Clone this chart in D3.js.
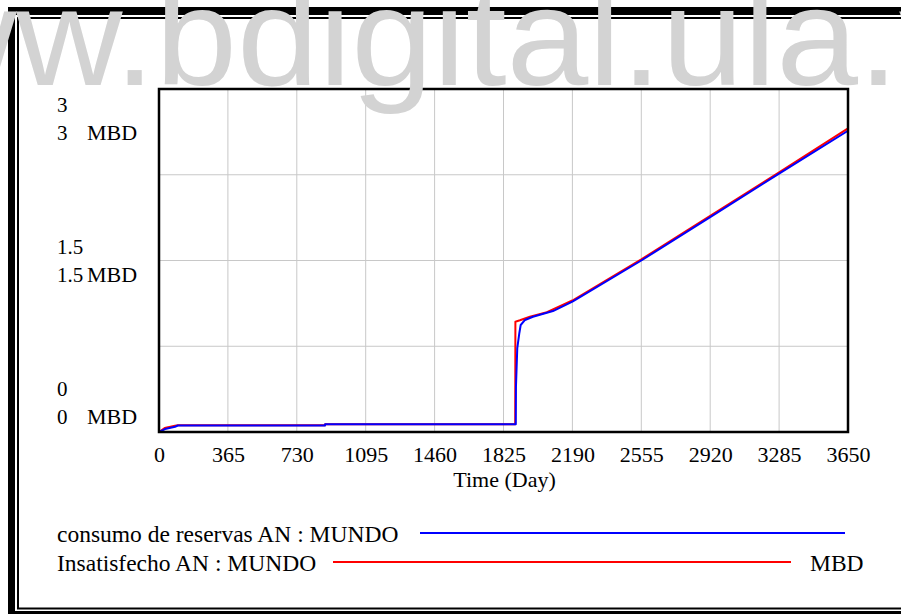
<!DOCTYPE html>
<html>
<head>
<meta charset="utf-8">
<script src="https://cdn.jsdelivr.net/npm/d3@7"></script>
<style>
  body { margin: 0; background: #fff; }
  svg { display: block; }
  text { font-family: "Liberation Serif", "Times New Roman", serif; fill: #000; }
</style>
</head>
<body>
<script>
// time axis (days) and tick labels
var xTicks = [0, 365, 730, 1095, 1460, 1825, 2190, 2555, 2920, 3285, 3650];
var yTicks = [0, 1.5, 3];
var yLabels = ["0", "1.5", "3"];
var unit = "MBD";

// consumo de reservas AN : MUNDO (blue)
var consumoT = [0, 32, 85, 100, 879, 880, 1890, 1891, 1898, 1909, 1916, 1939, 1981, 2087, 2190, 2555, 2920, 3285, 3650];
var consumoV = [0, 0.026, 0.046, 0.057, 0.057, 0.068, 0.068, 0.396, 0.734, 0.866, 0.936, 0.98, 1.008, 1.058, 1.14, 1.50, 1.88, 2.26, 2.635];

// Insatisfecho AN : MUNDO (red)
var insatT = [0, 30, 85, 100, 879, 880, 1887, 1888, 1912, 1965, 2055, 2190, 2555, 2920, 3285, 3650];
var insatV = [0, 0.035, 0.055, 0.059, 0.059, 0.068, 0.068, 0.965, 0.977, 1.008, 1.048, 1.15, 1.51, 1.89, 2.27, 2.656];

var series = [
  { name: "Insatisfecho AN : MUNDO", t: insatT, v: insatV, color: "#ff0000" },
  { name: "consumo de reservas AN : MUNDO", t: consumoT, v: consumoV, color: "#0000ff" }
];

var W = 901, H = 614;
// plot box (window.top is reserved, so no bare "top")
var pL = 159, pR = 848, pT = 89, pB = 432;

var svg = d3.select("body").append("svg")
    .attr("width", W)
    .attr("height", H);

var x = d3.scaleLinear().domain([0, 3650]).range([pL, pR]);
var y = d3.scaleLinear().domain([0, 3]).range([pB, pT]);
// the label pairs sit inside a narrower band than the plot
var yLab = d3.scaleLinear().domain([0, 3]).range([396, 112]);

// outer double frame
var frame = svg.append("g").attr("stroke", "#000");
frame.append("line").attr("x1", 8).attr("x2", W).attr("y1", 11).attr("y2", 11).attr("stroke-width", 8);
frame.append("line").attr("x1", 11.5).attr("x2", 11.5).attr("y1", 7).attr("y2", H).attr("stroke-width", 7);
frame.append("line").attr("x1", 8).attr("x2", W).attr("y1", 615).attr("y2", 615).attr("stroke-width", 8);
frame.append("line").attr("x1", 17).attr("x2", W).attr("y1", 18).attr("y2", 18).attr("stroke-width", 2);
frame.append("line").attr("x1", 18).attr("x2", 18).attr("y1", 17).attr("y2", 609).attr("stroke-width", 2);
frame.append("line").attr("x1", 17).attr("x2", W).attr("y1", 608.5).attr("y2", 608.5).attr("stroke-width", 2);

// grid
var grid = svg.append("g").attr("stroke", "#c8c8c8").attr("stroke-width", 1);
grid.selectAll("line.v")
    .data(xTicks.slice(1, -1))
  .enter().append("line")
    .attr("x1", function(d) { return x(d); })
    .attr("x2", function(d) { return x(d); })
    .attr("y1", pT)
    .attr("y2", pB);
grid.selectAll("line.h")
    .data([0.75, 1.5, 2.25])
  .enter().append("line")
    .attr("x1", pL)
    .attr("x2", pR)
    .attr("y1", function(d) { return y(d); })
    .attr("y2", function(d) { return y(d); });

// series
var line = d3.line()
    .x(function(d) { return x(d[0]); })
    .y(function(d) { return y(d[1]); });

svg.selectAll("path.series")
    .data(series)
  .enter().append("path")
    .attr("class", "series")
    .attr("fill", "none")
    .attr("stroke", function(d) { return d.color; })
    .attr("stroke-width", 2)
    .attr("stroke-linejoin", "round")
    .attr("d", function(d) { return line(d3.zip(d.t, d.v)); });

// plot border
svg.append("rect")
    .attr("x", pL).attr("y", pT)
    .attr("width", pR - pL).attr("height", pB - pT)
    .attr("fill", "none")
    .attr("stroke", "#000")
    .attr("stroke-width", 2.5);

// x axis labels
var xAxis = svg.append("g")
    .attr("transform", "translate(0," + pB + ")")
    .call(d3.axisBottom(x).tickValues(xTicks).tickSize(0).tickFormat(d3.format("d")));
xAxis.select(".domain").remove();
xAxis.selectAll("text")
    .attr("y", 30)
    .attr("dy", null)
    .style("font-family", '"Liberation Serif", serif')
    .style("font-size", "22px");

svg.append("text")
    .attr("x", (pL + pR) / 2 + 1)
    .attr("y", 487)
    .attr("text-anchor", "middle")
    .style("font-size", "22px")
    .text("Time (Day)");

// y labels: each value printed twice, second with unit
var yl = svg.append("g").style("font-size", "21px");
yl.selectAll("text.a")
    .data(yTicks)
  .enter().append("text")
    .attr("x", 57)
    .attr("y", function(d) { return yLab(d); })
    .text(function(d, i) { return yLabels[i]; });
yl.selectAll("text.b")
    .data(yTicks)
  .enter().append("text")
    .attr("x", 57)
    .attr("y", function(d) { return yLab(d) + 28; })
    .text(function(d, i) { return yLabels[i]; });
yl.selectAll("text.u")
    .data(yTicks)
  .enter().append("text")
    .attr("x", 87)
    .attr("y", function(d) { return yLab(d) + 28; })
    .style("font-size", "22px")
    .text(unit);

// legend
var lg = svg.append("g").style("font-size", "23.5px");
lg.append("text").attr("x", 57).attr("y", 542).text(series[1].name);
lg.append("line").attr("x1", 420).attr("x2", 845).attr("y1", 533).attr("y2", 533)
    .attr("stroke", series[1].color).attr("stroke-width", 2);
lg.append("text").attr("x", 57).attr("y", 571).text(series[0].name);
lg.append("line").attr("x1", 333).attr("x2", 791).attr("y1", 562).attr("y2", 562)
    .attr("stroke", series[0].color).attr("stroke-width", 2);
lg.append("text").attr("x", 810).attr("y", 571).text(unit);

// watermark
svg.append("text")
    .attr("transform", "translate(-196,85) scale(1.05,1)")
    .style("font-family", '"Liberation Sans", Arial, sans-serif')
    .style("font-size", "140px")
    .style("fill", "#d3d3d3")
    .text("www.bdigital.ula.ve");
</script>
</body>
</html>
